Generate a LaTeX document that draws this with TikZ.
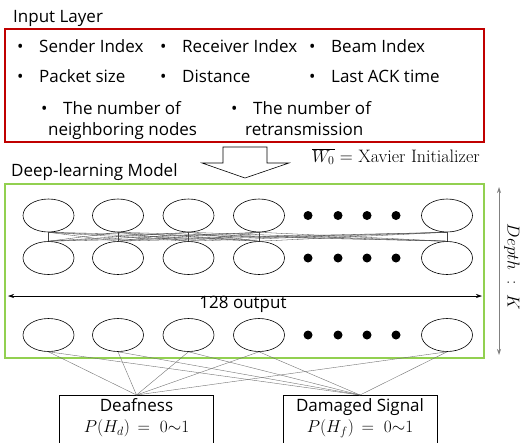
\documentclass[tikz,border=0pt]{standalone}
\usepackage[no-math]{fontspec}
\setsansfont{Open Sans}
\usetikzlibrary{shapes.geometric,arrows.meta}
\definecolor{inred}{RGB}{192,0,0}
\definecolor{modelgreen}{RGB}{146,208,80}
\newcommand{\feat}[1]{\makebox[22pt][l]{\textbullet}#1}
\begin{document}
\begin{tikzpicture}[x=1pt,y=-1pt,
    lbl/.style={font=\sffamily\fontsize{17}{21}\selectfont, inner sep=0pt},
    neuron/.style={draw, ellipse, minimum width=51pt, minimum height=33pt, inner sep=0pt, line width=0.6pt},
    mesh/.style={line width=0.3pt, black!75},
    outline/.style={line width=0.4pt, black!55},
    outbox/.style={draw, line width=0.6pt, minimum width=154pt, anchor=north, align=center,
        inner xsep=2pt, inner ysep=3pt, text depth=40pt, font=\fontsize{17}{21.5}\selectfont},
    both/.style={{Stealth[length=6pt,width=4pt]}-{Stealth[length=6pt,width=4pt]}}]
    \useasboundingbox (0,0) rectangle (521,442);

    % input features
    \node[lbl, anchor=base west] (inlabel) at (13,22) {Input Layer};
    \draw[inred, line width=2.2pt] (5,29) rectangle (484,142);
    \node[lbl, anchor=base west] (sender) at (17,52) {\feat{Sender Index}};
    \node[lbl, anchor=base west] (receiver) at (160,52) {\feat{Receiver Index}};
    \node[lbl, anchor=base west] (beam) at (309,52) {\feat{Beam Index}};
    \node[lbl, anchor=base west] (packet) at (17,82) {\feat{Packet size}};
    \node[lbl, anchor=base west] (distance) at (160,82) {\feat{Distance}};
    \node[lbl, anchor=base west] (lastack) at (309,82) {\feat{Last ACK time}};
    \node[lbl, anchor=north west, align=left] (neighbors) at (41,101)
        {\feat{The number of}\\\hspace*{7pt}neighboring nodes};
    \node[lbl, anchor=north west, align=left] (retrans) at (231,101)
        {\feat{The number of}\\\hspace*{14pt}retransmission};

    % hollow arrow into the model
    \draw[line width=0.6pt] (223,147) -- (267,147) -- (267,163) -- (289,163) -- (245,178)
        -- (202,163) -- (223,163) -- cycle;
    \node[anchor=base west, inner sep=0pt, font=\fontsize{18}{20}\selectfont] (xavier) at (312,162)
        {$\overline{W_0}$ = Xavier Initializer};

    % deep-learning model
    \node[lbl, anchor=base west] (dllabel) at (11,176) {Deep-learning Model};
    \draw[modelgreen, line width=2.6pt] (5,184) rectangle (484,358);

    \node[neuron] (a1) at (48.5,215.5) {};
    \node[neuron] (a2) at (118,215.5) {};
    \node[neuron] (a3) at (188.5,215.5) {};
    \node[neuron] (a4) at (259,215.5) {};
    \node[neuron] (a5) at (447,215.5) {};

    \node[neuron] (b1) at (48.5,258) {};
    \node[neuron] (b2) at (118,258) {};
    \node[neuron] (b3) at (188.5,258) {};
    \node[neuron] (b4) at (259,258) {};
    \node[neuron] (b5) at (447,258) {};

    \node[neuron] (c1) at (48.5,335) {};
    \node[neuron] (c2) at (118,335) {};
    \node[neuron] (c3) at (188.5,335) {};
    \node[neuron] (c4) at (259,335) {};
    \node[neuron] (c5) at (447,335) {};

    \foreach \y in {215.5,258,335}
        \foreach \x in {308,338,367,396}
            \fill (\x,\y) circle (4.5pt);

    \foreach \i in {1,...,5}
        \foreach \j in {1,...,5}
            \draw[mesh] (a\i.south) -- (b\j.north);

    % layer width and depth
    \coordinate (wl) at (8,296);
    \coordinate (wr) at (482,296);
    \draw[both, line width=0.6pt] (wl) -- (wr);
    \node[lbl, anchor=base] (width) at (243,308) {128 output};

    \coordinate (dtop) at (499,187);
    \coordinate (dbot) at (499,355);
    \draw[both, black!50, line width=0.8pt] (dtop) -- (dbot);
    \node[rotate=-90, inner sep=0pt, font=\fontsize{17}{19}\selectfont] (depth) at (512,267) {$Depth\ :\ K$};

    % outputs
    \node[outbox] (deaf) at (136.5,395) {\sffamily Deafness\\ $P(H_d)\,=\ 0{\sim}1$};
    \node[outbox] (damaged) at (360,395) {\sffamily Damaged Signal\\ $P(H_f)\,=\ 0{\sim}1$};

    \foreach \i in {1,...,5} {
        \draw[outline] (c\i.south) -- (deaf.north);
        \draw[outline] (c\i.south) -- (damaged.north);
    }
\end{tikzpicture}
\end{document}
